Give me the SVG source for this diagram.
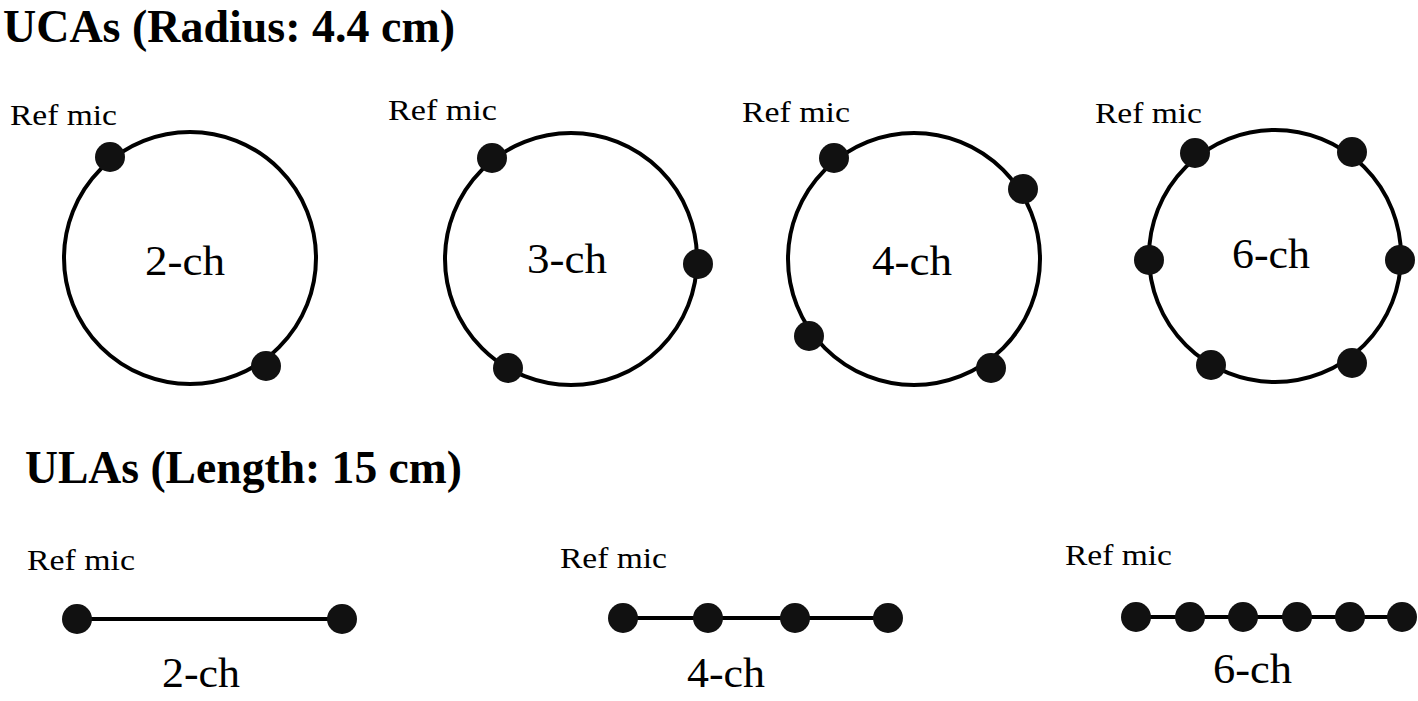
<svg xmlns="http://www.w3.org/2000/svg" width="1418" height="701" viewBox="0 0 1418 701">
<style>
.title{font-family:"Liberation Serif","Times New Roman",serif;font-weight:bold;font-size:46px;fill:#000}
.ref{font-family:"Liberation Serif","Times New Roman",serif;font-size:30px;fill:#000}
.lab{font-family:"Liberation Serif","Times New Roman",serif;font-size:42px;fill:#000}
.ring{fill:none;stroke:#000;stroke-width:4}
.mic{fill:#111}
.wire{stroke:#000;stroke-width:4}
</style>
<rect width="1418" height="701" fill="#fff"/>
<text class="title" x="3" y="42" textLength="452" lengthAdjust="spacingAndGlyphs">UCAs (Radius: 4.4 cm)</text>
<text class="title" x="25" y="483" textLength="437" lengthAdjust="spacingAndGlyphs">ULAs (Length: 15 cm)</text>

<g id="connectors">
<line class="wire" x1="77" y1="619" x2="342" y2="619"/>
<line class="wire" x1="623" y1="618" x2="888" y2="618"/>
<line class="wire" x1="1136" y1="617" x2="1402" y2="617"/>
</g>

<g id="uca2">
<circle class="ring" cx="190" cy="258" r="126"/>
<circle class="mic" cx="110" cy="157" r="15"/>
<circle class="mic" cx="266" cy="366" r="15"/>
<text class="ref" x="10" y="125" textLength="107" lengthAdjust="spacingAndGlyphs">Ref mic</text>
<text class="lab" x="145" y="275" textLength="80" lengthAdjust="spacingAndGlyphs">2-ch</text>
</g>

<g id="uca3">
<circle class="ring" cx="571" cy="259" r="126"/>
<circle class="mic" cx="492" cy="158" r="15"/>
<circle class="mic" cx="698" cy="264" r="15"/>
<circle class="mic" cx="508" cy="368" r="15"/>
<text class="ref" x="388" y="120" textLength="109" lengthAdjust="spacingAndGlyphs">Ref mic</text>
<text class="lab" x="527" y="273" textLength="80" lengthAdjust="spacingAndGlyphs">3-ch</text>
</g>

<g id="uca4">
<circle class="ring" cx="914" cy="259" r="126"/>
<circle class="mic" cx="834" cy="158" r="15"/>
<circle class="mic" cx="1023" cy="189" r="15"/>
<circle class="mic" cx="809" cy="336" r="15"/>
<circle class="mic" cx="991" cy="368" r="15"/>
<text class="ref" x="742" y="122" textLength="108" lengthAdjust="spacingAndGlyphs">Ref mic</text>
<text class="lab" x="872" y="275" textLength="80" lengthAdjust="spacingAndGlyphs">4-ch</text>
</g>

<g id="uca6">
<circle class="ring" cx="1275" cy="256" r="126"/>
<circle class="mic" cx="1195" cy="153" r="15"/>
<circle class="mic" cx="1352" cy="152" r="15"/>
<circle class="mic" cx="1149" cy="260" r="15"/>
<circle class="mic" cx="1400" cy="260" r="15"/>
<circle class="mic" cx="1211" cy="365" r="15"/>
<circle class="mic" cx="1352" cy="363" r="15"/>
<text class="ref" x="1095" y="123" textLength="107" lengthAdjust="spacingAndGlyphs">Ref mic</text>
<text class="lab" x="1232" y="268" textLength="78" lengthAdjust="spacingAndGlyphs">6-ch</text>
</g>

<g id="ula2">
<circle class="mic" cx="77" cy="619" r="15"/>
<circle class="mic" cx="342" cy="619" r="15"/>
<text class="ref" x="27" y="570" textLength="108" lengthAdjust="spacingAndGlyphs">Ref mic</text>
<text class="lab" x="162" y="687" textLength="78" lengthAdjust="spacingAndGlyphs">2-ch</text>
</g>

<g id="ula4">
<circle class="mic" cx="623" cy="618" r="15"/>
<circle class="mic" cx="708" cy="618" r="15"/>
<circle class="mic" cx="795" cy="618" r="15"/>
<circle class="mic" cx="888" cy="618" r="15"/>
<text class="ref" x="560" y="568" textLength="107" lengthAdjust="spacingAndGlyphs">Ref mic</text>
<text class="lab" x="687" y="687" textLength="78" lengthAdjust="spacingAndGlyphs">4-ch</text>
</g>

<g id="ula6">
<circle class="mic" cx="1136" cy="617" r="15"/>
<circle class="mic" cx="1190" cy="617" r="15"/>
<circle class="mic" cx="1243" cy="617" r="15"/>
<circle class="mic" cx="1297" cy="617" r="15"/>
<circle class="mic" cx="1350" cy="617" r="15"/>
<circle class="mic" cx="1402" cy="617" r="15"/>
<text class="ref" x="1065" y="565" textLength="107" lengthAdjust="spacingAndGlyphs">Ref mic</text>
<text class="lab" x="1213" y="683" textLength="79" lengthAdjust="spacingAndGlyphs">6-ch</text>
</g>
</svg>
